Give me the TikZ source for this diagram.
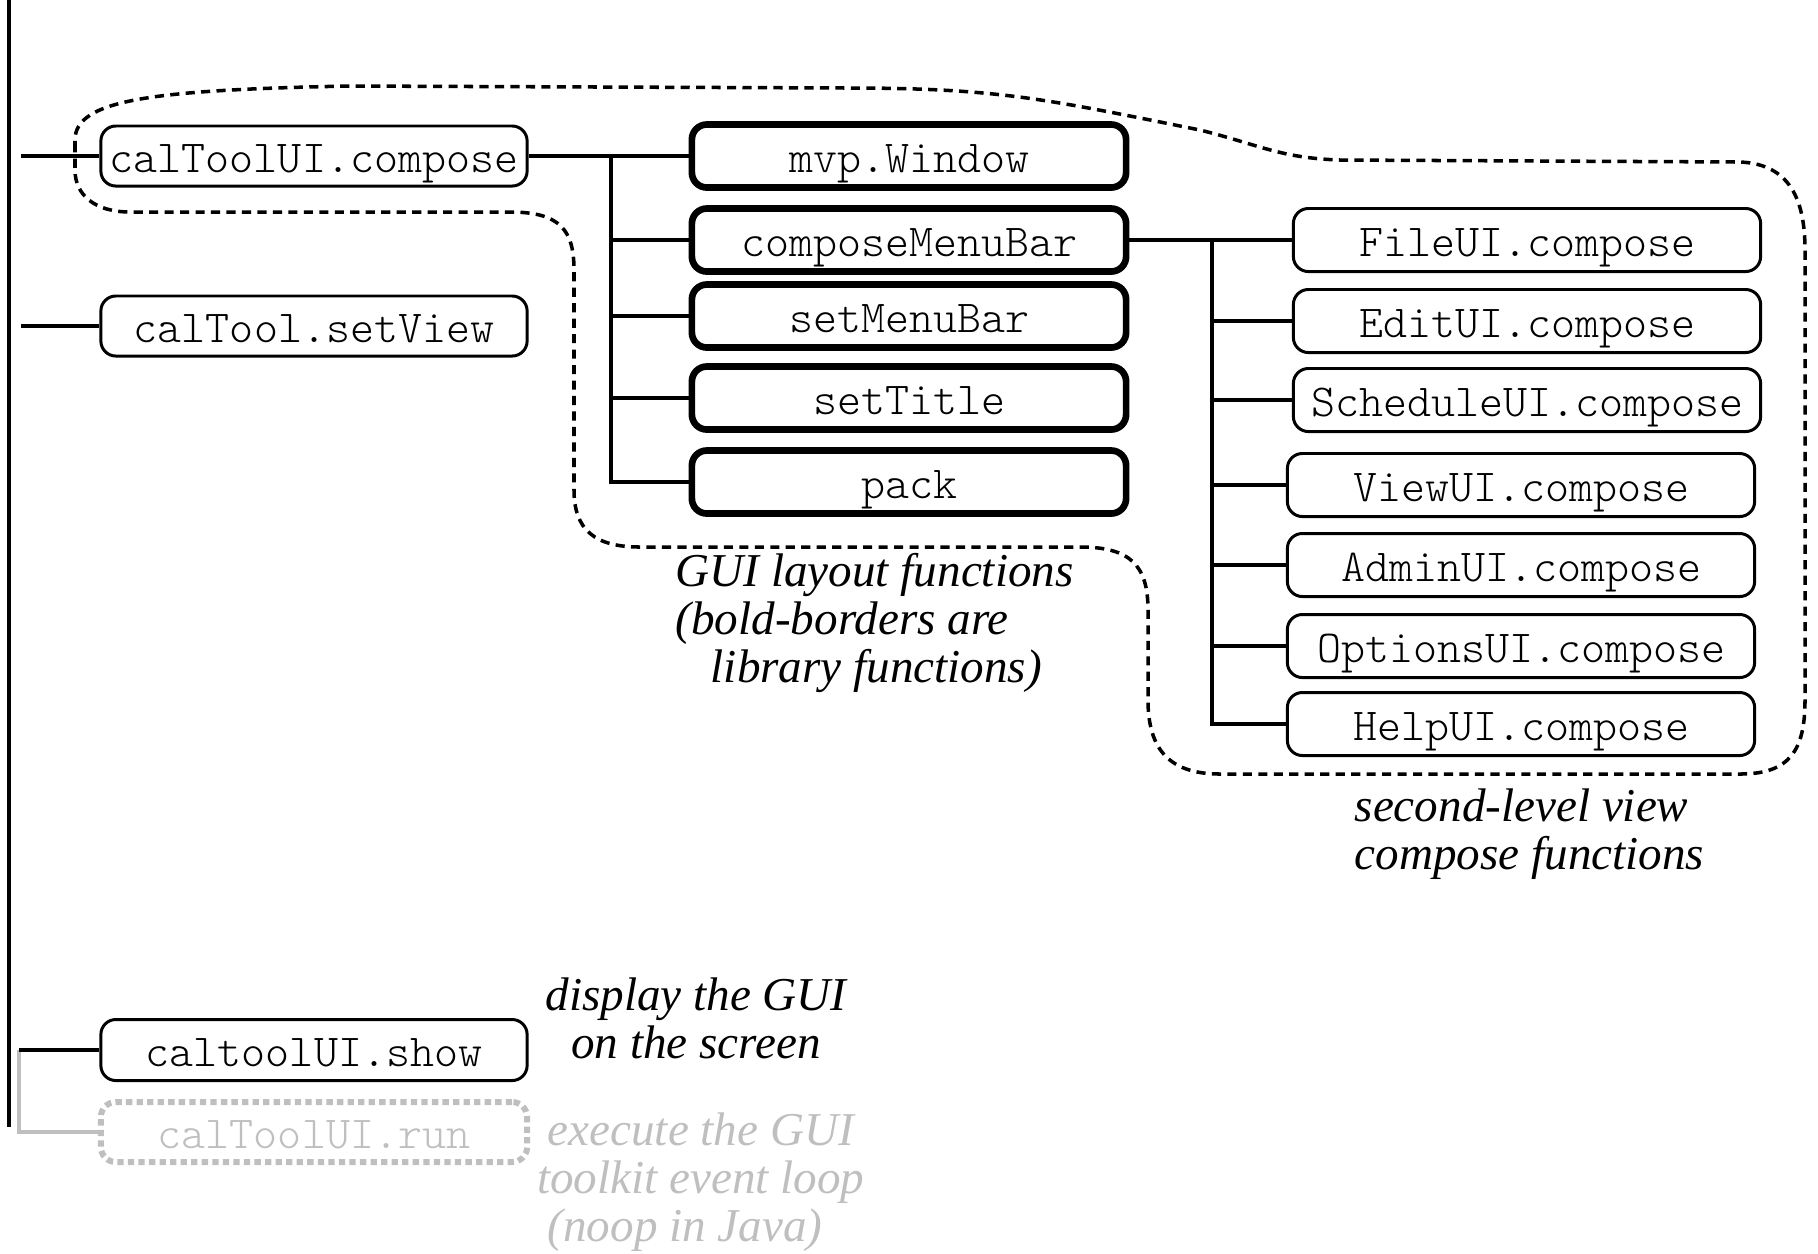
\documentclass[tikz,border=0pt]{standalone}
\usepackage{fontspec}
\newfontfamily\notefamily{Liberation Serif}
\newcommand\fnfont{\fontsize{13}{15}\ttfamily\fontseries{l}\selectfont}
\newcommand\remarkfont{\notefamily\itshape\fontsize{13.4}{13.7}\selectfont}
\colorlet{faded}{black!25}
\tikzset{
	fnbox/.style={draw, rounded corners=0.15cm, line width=0.85pt, inner sep=0pt,
		minimum width=4.26cm, minimum height=0.6cm, font=\fnfont,
		text height=12pt, text depth=2.6pt},
	libbox/.style={fnbox, line width=1.9pt, minimum width=4.34cm, minimum height=0.63cm},
	viewbox/.style={fnbox, minimum width=4.67cm, minimum height=0.63cm},
	noopbox/.style={fnbox, draw=faded, text=faded, line width=1.7pt, dash pattern=on 1.8pt off 1.2pt},
	link/.style={line width=0.9pt},
	group/.style={line width=1pt, dash pattern=on 2.6pt off 1.8pt},
	remark/.style={font=\remarkfont, inner sep=0pt}
}

\begin{document}
\begin{tikzpicture}[x=0.01cm, y=-0.01cm]
			%%%%% START %%%%%
			\useasboundingbox (0,0) rectangle (1818,1253);
			
			\draw[line width=1pt] (9,0) -- (9,1127);
			
			% top level calls
			\node[fnbox] (compose) at (314,156) {calToolUI.compose};
			\node[fnbox] (setview) at (314,326) {calTool.setView};
			\node[fnbox, minimum height=0.61cm] (show) at (314,1050) {caltoolUI.show};
			\node[noopbox] (run) at (314,1132) {calToolUI.run};
			
			\coordinate (tapcompose) at (21,156);
			\coordinate (tapview) at (21,326);
			\coordinate (tapshow) at (19,1050);
			\draw[link] (tapcompose) -- (compose.west);
			\draw[link] (tapview) -- (setview.west);
			\draw[link, faded] (tapshow) |- (run.west);
			\draw[link] (tapshow) -- (show.west);
			
			% library calls
			\node[libbox] (mvp) at (909,156) {mvp.Window};
			\node[libbox] (cmb) at (909,240) {composeMenuBar};
			\node[libbox] (smb) at (909,316) {setMenuBar};
			\node[libbox] (title) at (909,398) {setTitle};
			\node[libbox] (pack) at (909,482) {pack};
			
			\coordinate (busa) at (611,156);
			\draw[link] (compose.east) -- (busa) |- (pack.west);
			\foreach \n in {mvp,cmb,smb,title}
				\draw[link] (busa |- \n.west) -- (\n.west);
			
			% second-level views
			\node[viewbox] (fileui) at (1527,240) {FileUI.compose};
			\node[viewbox] (editui) at (1527,321) {EditUI.compose};
			\node[viewbox] (schedui) at (1527,400) {ScheduleUI.compose};
			\node[viewbox] (viewui) at (1521,485) {ViewUI.compose};
			\node[viewbox] (adminui) at (1521,565) {AdminUI.compose};
			\node[viewbox] (optui) at (1521,646) {OptionsUI.compose};
			\node[viewbox] (helpui) at (1521,724) {HelpUI.compose};
			
			\coordinate (busb) at (1212,240);
			\draw[link] (cmb.east) -- (busb) |- (helpui.west);
			\foreach \n in {fileui,editui,schedui,viewui,adminui,optui}
				\draw[link] (busb |- \n.west) -- (\n.west);
			
			% grouping outline
			\draw[group] (75,150) -- (75,140) .. controls (75,100) and (150,90) .. (350,86)
				-- (850,88) .. controls (1000,88) and (1050,100) .. (1200,130)
				.. controls (1260,145) and (1280,158) .. (1340,160)
				-- (1740,162) .. controls (1790,164) and (1805,200) .. (1805,250)
				-- (1805,700) .. controls (1805,750) and (1790,774) .. (1740,774)
				-- (1220,774) .. controls (1170,774) and (1148,750) .. (1148,700)
				-- (1148,610) .. controls (1148,565) and (1130,547) .. (1080,547)
				-- (640,547) .. controls (595,547) and (574,530) .. (574,490)
				-- (574,270) .. controls (574,230) and (560,212) .. (510,212)
				-- (130,212) .. controls (95,212) and (75,195) .. (75,170) -- cycle;
			
			\node[remark, anchor=west, align=left] (layoutnote) at (675,623)
				{GUI layout functions\\(bold-borders are\\\hspace*{10pt}library functions)};
			\node[remark, anchor=west, align=left] (viewnote) at (1354,834)
				{second-level view\\compose functions};
			\node[remark, align=center] (shownote) at (696,1018)
				{display the GUI\\on the screen};
			\node[remark, text=faded, anchor=west, align=left] (runnote) at (547,1182)
				{execute the GUI\\\hspace*{-3pt}toolkit event loop\\(noop in Java)};
			
			%%%%% END %%%%%
\end{tikzpicture}
\end{document}
